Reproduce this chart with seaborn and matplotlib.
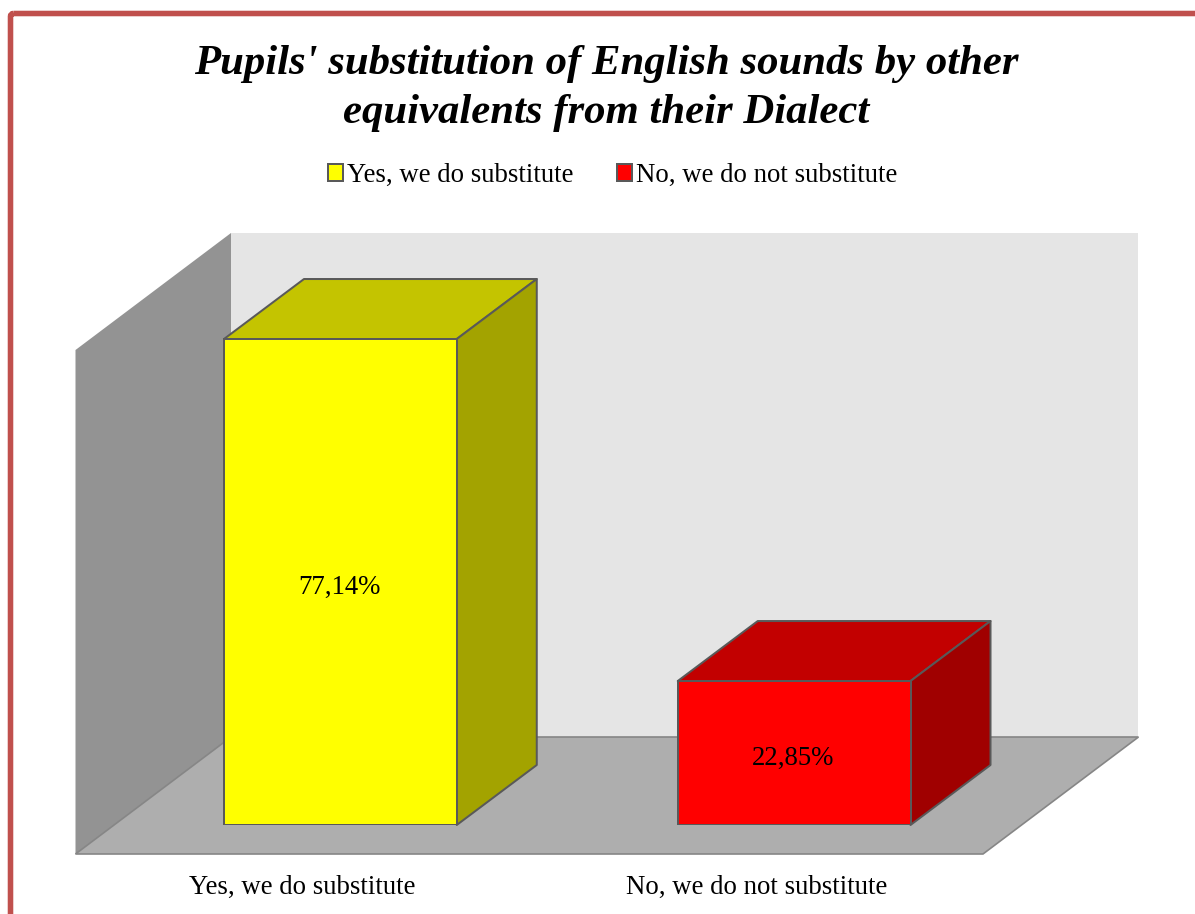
import matplotlib
matplotlib.use("Agg")
import matplotlib.pyplot as plt
from matplotlib.patches import FancyBboxPatch, Polygon
from matplotlib.transforms import ScaledTranslation
import pandas as pd
import seaborn as sns

# Survey answers and their shares in percent
answers = ["Yes, we do substitute", "No, we do not substitute"]
shares = [77.14, 22.85]
front_colors = ["#FFFF00", "#FF0000"]
top_colors = ["#C4C400", "#C20000"]
side_colors = ["#A3A300", "#A00000"]
title_lines = ["Pupils' substitution of English sounds by other", "equivalents from their Dialect"]

W, H = 1195, 914
SERIF = "Liberation Serif"
EDGE = "#595959"
LW = 2 * 72 / 100
TEXT_SIZE = 19.3

# Projection offsets in pixels: the bars' front plane to their back, to the walls, and to the floor's front edge
BAR_DEPTH = (80, -60)
WALL_DEPTH = (117.5, -88)
FRONT_LIP = (-38, 29)

sns.set_theme(style="white")
plt.rcParams["font.family"] = [SERIF, "DejaVu Serif"]

fig = plt.figure(figsize=(W / 100, H / 100), dpi=100, facecolor="white")

# Pixel-space layer for the outer frame and the projected faces
bg = fig.add_axes([0, 0, 1, 1])
bg.set_xlim(0, W)
bg.set_ylim(H, 0)
bg.axis("off")

# Front plane of the bars
ax = fig.add_axes([113.5 / W, 1 - 825 / H, (1021 - 113.5) / W, (825 - 321) / H])
ax.patch.set_alpha(0)

df = pd.DataFrame({"answer": answers, "share": shares})
sns.barplot(
    data=df, x="answer", y="share", hue="answer", hue_order=answers,
    palette=front_colors, dodge=False, width=0.513,
    edgecolor=EDGE, linewidth=LW, saturation=1, ax=ax, legend=True,
)
ax.set_xlim(-0.5, 1.5)
ax.set_ylim(0, 80)
ax.set_yticks([])
ax.set_xlabel("")
ax.set_ylabel("")
sns.despine(ax=ax, left=True, bottom=True)

# Category labels sit under the floor's front edge, so shift them from the bar plane
ax.tick_params(axis="x", length=0, pad=36, labelsize=TEXT_SIZE, labelcolor="black")
shift = ScaledTranslation(FRONT_LIP[0] / 100, 0, fig.dpi_scale_trans)
for lab in ax.get_xticklabels():
    lab.set_transform(lab.get_transform() + shift)


def to_px(x, y):
    dx, dy = ax.transData.transform((x, y))
    return dx, H - dy


def moved(p, off):
    return (p[0] + off[0], p[1] + off[1])


# Walls and floor, derived from the plane's corners
x0, x1 = ax.get_xlim()
y0, y1 = ax.get_ylim()
bl, br, tl = to_px(x0, y0), to_px(x1, y0), to_px(x0, y1)
fl_front_l, fl_front_r = moved(bl, FRONT_LIP), moved(br, FRONT_LIP)
back_bl, back_br, back_tl = moved(bl, WALL_DEPTH), moved(br, WALL_DEPTH), moved(tl, WALL_DEPTH)
wall_front_top = moved(tl, FRONT_LIP)

bg.add_patch(Polygon([back_tl, (back_br[0], back_tl[1]), back_br, back_bl],
                     fc="#E5E5E5", ec="none", zorder=1))
bg.add_patch(Polygon([wall_front_top, back_tl, back_bl, fl_front_l],
                     fc="#939393", ec="none", zorder=2))
bg.add_patch(Polygon([fl_front_l, fl_front_r, back_br, back_bl],
                     fc="#AEAEAE", ec="#868686", lw=1.2, zorder=3))

# Top and side faces of each bar
for bar, top_c, side_c in zip(ax.patches, top_colors, side_colors):
    bx, by, bw, bh = bar.get_x(), bar.get_y(), bar.get_width(), bar.get_height()
    f_tl, f_tr, f_br = to_px(bx, by + bh), to_px(bx + bw, by + bh), to_px(bx + bw, by)
    bg.add_patch(Polygon([f_tl, moved(f_tl, BAR_DEPTH), moved(f_tr, BAR_DEPTH), f_tr],
                         fc=top_c, ec=EDGE, lw=LW, joinstyle="round", zorder=4))
    bg.add_patch(Polygon([f_tr, moved(f_tr, BAR_DEPTH), moved(f_br, BAR_DEPTH), f_br],
                         fc=side_c, ec=EDGE, lw=LW, joinstyle="round", zorder=4))

# Value labels use a decimal comma
for container in ax.containers:
    for ann in ax.bar_label(
        container,
        labels=[f"{v:.2f}%".replace(".", ",") for v in container.datavalues],
        label_type="center", fontsize=TEXT_SIZE, color="black", padding=0,
    ):
        ann.xyann = (-1, -3.8)

# Legend across the top
sns.move_legend(
    ax, "center", bbox_to_anchor=(612.5 / W, 1 - 175.5 / H), bbox_transform=fig.transFigure,
    ncol=2, frameon=False, title=None, fontsize=TEXT_SIZE, handlelength=0.56, handleheight=0.56,
    handletextpad=0.17, columnspacing=1.6, borderpad=0, labelcolor="black",
)

# Title
for i, line in enumerate(title_lines):
    bg.text(606.5, 64 + i * 49, line, ha="center", va="center", fontsize=30.75,
            fontweight="bold", fontstyle="italic", color="black", zorder=6)

# Outer frame runs past the right and bottom edges of the canvas
bg.add_patch(FancyBboxPatch((10.5, 13.5), W + 30, H + 30,
                            boxstyle="round,pad=0,rounding_size=3",
                            fc="none", ec="#C0504D", lw=4, zorder=7))

fig.savefig("out.png", dpi=100, facecolor="white")
